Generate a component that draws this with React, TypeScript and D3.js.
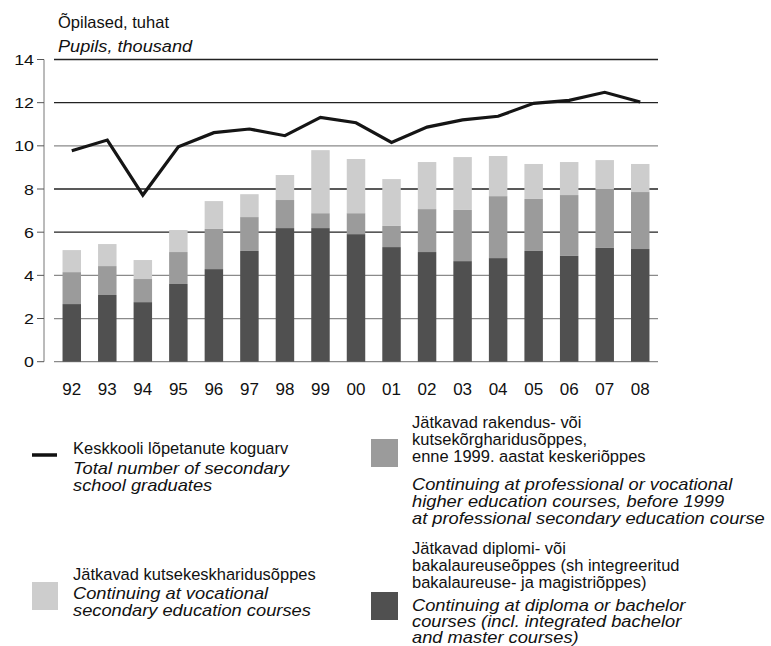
import React from "react";
import * as d3 from "d3";

const years = ["92","93","94","95","96","97","98","99","00","01","02","03","04","05","06","07","08"];
const bachelor = [2.67,3.09,2.76,3.6,4.29,5.13,6.19,6.19,5.91,5.31,5.08,4.66,4.8,5.13,4.9,5.27,5.22];
const professional = [1.48,1.34,1.07,1.48,1.86,1.57,1.3,0.69,0.97,0.98,1.99,2.37,2.87,2.41,2.82,2.73,2.64];
const vocational = [1.02,1.02,0.88,1.02,1.29,1.06,1.16,2.92,2.51,2.17,2.18,2.45,1.86,1.62,1.53,1.34,1.3];
const graduates = [9.77,10.27,7.72,9.96,10.61,10.78,10.47,11.32,11.07,10.16,10.87,11.2,11.37,11.97,12.11,12.48,12.03];
const yTicks = [0,2,4,6,8,10,12,14];
const darkGrid = [6,8,12,14];

const seriesKeys = ["bachelor","professional","vocational"];
const seriesColors: Record<string,string> = { bachelor: "#505050", professional: "#9b9b9b", vocational: "#cdcdcd" };

const FONT = "'Liberation Sans', Arial, Helvetica, sans-serif";

export default function App() {
  const x = d3.scaleBand<string>().domain(years).range([54, 658]).paddingInner(0.48).paddingOuter(0.24);
  const y = d3.scaleLinear().domain([0, 14]).range([361.7, 59.5]);

  const table = years.map((yr, i) => ({ year: yr, bachelor: bachelor[i], professional: professional[i], vocational: vocational[i] }));
  const stacked = d3.stack<any>().keys(seriesKeys)(table);

  const line = d3.line<number>()
    .x((_, i) => (x(years[i]) as number) + x.bandwidth() / 2)
    .y((d) => y(d));

  const legendText = (x0: number, y0: number, lines: string[], italic: boolean, lh: number) =>
    lines.map((t, i) => (
      <text key={t} transform={`translate(${x0},${y0 + i * lh}) scale(${italic ? 1.13 : 0.97},1)`} fontSize={italic ? 16.2 : 17} fontStyle={italic ? "italic" : "normal"} fill="#111">{t}</text>
    ));

  return (
    <svg width={771} height={646} style={{ position: "absolute", left: 0, top: 0, background: "#fff" }} fontFamily={FONT}>
      {/* title */}
      <text transform="translate(58,28) scale(1.0,1)" fontSize={16.5} fill="#111">Õpilased, tuhat</text>
      <text transform="translate(58,51.5) scale(1.1,1)" fontSize={16.5} fontStyle="italic" fill="#111">Pupils, thousand</text>

      {/* grid */}
      {yTicks.map((t) => (
        <line key={"g" + t} x1={54} x2={658} y1={y(t)} y2={y(t)} stroke={darkGrid.includes(t) ? "#222" : "#8a8a8a"} strokeWidth={1.3} />
      ))}
      {/* y axis */}
      <line x1={44} x2={44} y1={y(14)} y2={y(0)} stroke="#777" strokeWidth={1} />
      {yTicks.map((t) => (
        <g key={"t" + t}>
          <line x1={37} x2={44} y1={y(t)} y2={y(t)} stroke="#555" strokeWidth={1} />
          <text transform={`translate(34,${y(t) + 5.5}) scale(1.15,1)`} textAnchor="end" fontSize={15.5} fill="#111">{t}</text>
        </g>
      ))}

      {/* bars */}
      {stacked.map((s) => (
        <g key={s.key} fill={seriesColors[s.key]}>
          {s.map((d: any, i: number) => (
            <rect key={i} x={x(years[i])} width={x.bandwidth()} y={y(d[1])} height={y(d[0]) - y(d[1])} />
          ))}
        </g>
      ))}

      {/* line */}
      <path d={line(graduates) || ""} fill="none" stroke="#151515" strokeWidth={3.2} strokeLinejoin="miter" />

      {/* x labels */}
      {years.map((yr) => (
        <text key={"x" + yr} x={(x(yr) as number) + x.bandwidth() / 2} y={395} textAnchor="middle" fontSize={17} fill="#111">{yr}</text>
      ))}

      {/* legend */}
      <line x1={32} x2={57} y1={455} y2={455} stroke="#111" strokeWidth={3.5} />
      {legendText(73, 453.5, ["Keskkooli lõpetanute koguarv"], false, 17.5)}
      {legendText(73, 473.5, ["Total number of secondary", "school graduates"], true, 17)}

      <rect x={371} y={439} width={27} height={28} fill={seriesColors.professional} />
      {legendText(412, 427.5, ["Jätkavad rakendus- või", "kutsekõrgharidusõppes,", "enne 1999. aastat keskeriõppes"], false, 17)}
      {legendText(412, 489.5, ["Continuing at professional or vocational", "higher education courses, before 1999", "at professional secondary education course"], true, 17)}

      <rect x={32} y={582} width={26} height={28} fill={seriesColors.vocational} />
      {legendText(73, 580, ["Jätkavad kutsekeskharidusõppes"], false, 17)}
      {legendText(73, 599, ["Continuing at vocational", "secondary education courses"], true, 17)}

      <rect x={371} y={592} width={27} height={28} fill={seriesColors.bachelor} />
      {legendText(412, 554, ["Jätkavad diplomi- või", "bakalaureuseõppes (sh integreeritud", "bakalaureuse- ja magistriõppes)"], false, 16.8)}
      {legendText(412, 610.5, ["Continuing at diploma or bachelor", "courses (incl. integrated bachelor", "and master courses)"], true, 16.3)}
    </svg>
  );
}
